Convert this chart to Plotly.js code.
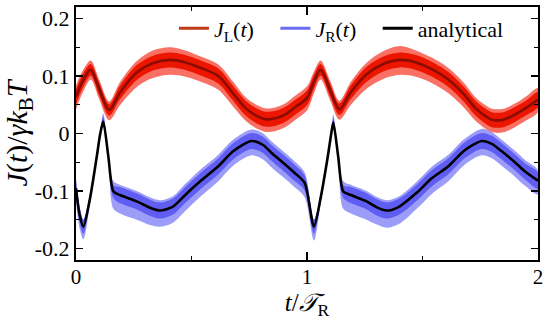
<!DOCTYPE html>
<html>
<head>
<meta charset="utf-8">
<script src="https://cdn.plot.ly/plotly-3.0.1.min.js"></script>
<style>html,body{margin:0;padding:0;background:#fff;}#chart{width:550px;height:322px;}</style>
</head>
<body>
<div id="chart"></div>
<script>
// ---- data ----
// left current J_L(t): analytical curve
const tL = [0, 0.03, 0.064, 0.1, 0.144, 0.19, 0.263, 0.33, 0.407, 0.47, 0.54, 0.616, 0.68, 0.732, 0.78, 0.818, 0.86, 0.905, 0.95, 1.0,
            1.03, 1.059, 1.1, 1.14, 1.19, 1.258, 1.33, 1.403, 1.468, 1.54, 1.612, 1.68, 1.727, 1.77, 1.8, 1.85, 1.9, 1.95, 2.0];
const jlAnalytic = [0.064, 0.092, 0.111, 0.078, 0.041, 0.071, 0.106, 0.122, 0.128, 0.124, 0.114, 0.1, 0.07, 0.045, 0.031, 0.025, 0.026, 0.033, 0.046, 0.062,
            0.09, 0.111, 0.076, 0.042, 0.072, 0.103, 0.121, 0.128, 0.124, 0.112, 0.094, 0.068, 0.045, 0.031, 0.024, 0.024, 0.033, 0.045, 0.059];
// spread of the noisy J_L data around the analytical curve (dense core / spiky fringe)
const jlCore   = [0.013, 0.012, 0.01, 0.011, 0.01, 0.012, 0.013, 0.013, 0.013, 0.013, 0.013, 0.013, 0.013, 0.013, 0.013, 0.013, 0.013, 0.013, 0.013, 0.013,
            0.012, 0.01, 0.011, 0.01, 0.012, 0.013, 0.013, 0.013, 0.013, 0.013, 0.013, 0.013, 0.013, 0.013, 0.013, 0.013, 0.013, 0.013, 0.013];
const jlAbove  = [0.02, 0.018, 0.016, 0.016, 0.015, 0.018, 0.02, 0.022, 0.022, 0.021, 0.02, 0.02, 0.02, 0.019, 0.019, 0.019, 0.019, 0.019, 0.02, 0.02,
            0.018, 0.016, 0.016, 0.015, 0.018, 0.02, 0.022, 0.024, 0.021, 0.02, 0.02, 0.02, 0.019, 0.019, 0.019, 0.019, 0.019, 0.02, 0.02];
const jlBelow  = [0.022, 0.02, 0.017, 0.018, 0.018, 0.022, 0.025, 0.026, 0.026, 0.025, 0.024, 0.024, 0.023, 0.022, 0.022, 0.022, 0.022, 0.022, 0.022, 0.022,
            0.02, 0.017, 0.018, 0.018, 0.022, 0.025, 0.026, 0.026, 0.025, 0.024, 0.024, 0.023, 0.022, 0.022, 0.022, 0.022, 0.022, 0.022, 0.022];

// right current J_R(t): analytical curve
const tR = [0, 0.015, 0.032, 0.061, 0.09, 0.105, 0.118, 0.14, 0.162, 0.19, 0.263, 0.32, 0.364, 0.42, 0.475, 0.544, 0.616, 0.68, 0.76, 0.81, 0.847, 0.9, 0.948, 0.99,
            1.03, 1.06, 1.09, 1.105, 1.114, 1.135, 1.157, 1.19, 1.258, 1.3, 1.345, 1.4, 1.475, 1.54, 1.612, 1.68, 1.756, 1.8, 1.843, 1.9, 1.944, 2.0];
const jrAnalytic = [-0.095, -0.14, -0.162, -0.112, -0.04, 0.0, 0.021, -0.04, -0.101, -0.107, -0.118, -0.129, -0.134, -0.127, -0.106, -0.081, -0.057, -0.031, -0.013, -0.02, -0.034, -0.052, -0.069, -0.086,
            -0.162, -0.11, -0.04, 0.0, 0.019, -0.04, -0.101, -0.107, -0.118, -0.128, -0.134, -0.127, -0.103, -0.078, -0.057, -0.03, -0.013, -0.018, -0.031, -0.05, -0.066, -0.082];
// spread of the noisy J_R data around the analytical curve
const jrCore   = [0.013, 0.013, 0.012, 0.006, 0.004, 0.004, 0.008, 0.004, 0.011, 0.014, 0.014, 0.014, 0.014, 0.014, 0.014, 0.014, 0.014, 0.014, 0.014, 0.014, 0.014, 0.014, 0.014, 0.013,
            0.012, 0.006, 0.004, 0.004, 0.008, 0.004, 0.011, 0.014, 0.014, 0.014, 0.014, 0.014, 0.014, 0.014, 0.014, 0.014, 0.014, 0.014, 0.014, 0.014, 0.014, 0.014];
const jrAbove  = [0.016, 0.014, 0.012, 0.008, 0.006, 0.006, 0.014, 0.006, 0.018, 0.018, 0.018, 0.018, 0.018, 0.018, 0.019, 0.02, 0.02, 0.02, 0.02, 0.02, 0.02, 0.02, 0.02, 0.018,
            0.012, 0.008, 0.006, 0.006, 0.014, 0.006, 0.018, 0.018, 0.018, 0.018, 0.018, 0.018, 0.019, 0.02, 0.02, 0.02, 0.021, 0.02, 0.02, 0.02, 0.02, 0.018];
const jrBelow  = [0.022, 0.024, 0.022, 0.01, 0.006, 0.006, 0.006, 0.006, 0.03, 0.032, 0.032, 0.03, 0.028, 0.028, 0.028, 0.027, 0.026, 0.025, 0.025, 0.025, 0.025, 0.025, 0.025, 0.025,
            0.024, 0.01, 0.006, 0.006, 0.006, 0.006, 0.03, 0.032, 0.032, 0.03, 0.03, 0.03, 0.028, 0.027, 0.026, 0.025, 0.025, 0.025, 0.025, 0.025, 0.025, 0.024];

const xTicks = [0, 1, 2];
const xTickText = ['0', '1', '2'];
const yTicks = [-0.2, -0.1, 0, 0.1, 0.2];
const yTickText = ['-0.2', '-0.1', '0', '0.1', '0.2'];
const legendNames = ['<i>J</i><sub>L</sub>(<i>t</i>)', '<i>J</i><sub>R</sub>(<i>t</i>)', 'analytical'];

// ---- build traces ----
function band(t, center, up, down, color) {
  const hi = center.map((v, i) => v + up[i]);
  const lo = center.map((v, i) => v - down[i]);
  return {
    x: t.concat(t.slice().reverse()),
    y: hi.concat(lo.slice().reverse()),
    type: 'scatter', mode: 'lines', fill: 'toself',
    fillcolor: color, line: {width: 0, color: color, shape: 'spline', smoothing: 0.9},
    hoverinfo: 'skip', showlegend: false
  };
}

const traces = [
  band(tL, jlAnalytic, jlAbove, jlBelow, 'rgba(245,25,5,0.62)'),
  band(tL, jlAnalytic, jlCore, jlCore, 'rgb(236,22,0)'),
  band(tR, jrAnalytic, jrAbove, jrBelow, 'rgba(95,95,245,0.62)'),
  band(tR, jrAnalytic, jrCore, jrCore, 'rgb(96,94,242)'),
  {x: tL, y: jlAnalytic, type: 'scatter', mode: 'lines', line: {color: '#8a0c00', width: 2.6, shape: 'spline', smoothing: 0.9}, showlegend: false},
  {x: tR, y: jrAnalytic, type: 'scatter', mode: 'lines', line: {color: '#000000', width: 2.6, shape: 'spline', smoothing: 0.7}, showlegend: false},
  // legend entries
  {x: [null], y: [null], type: 'scatter', mode: 'lines', name: legendNames[0] + '&nbsp;&nbsp;&nbsp;', line: {color: '#c0391a', width: 3}},
  {x: [null], y: [null], type: 'scatter', mode: 'lines', name: legendNames[1] + '&nbsp;&nbsp;&nbsp;', line: {color: '#6b6bf5', width: 3}},
  {x: [null], y: [null], type: 'scatter', mode: 'lines', name: legendNames[2], line: {color: '#000000', width: 3}}
];

const serif = '"Liberation Serif", "DejaVu Serif", serif';
const layout = {
  width: 550, height: 322,
  margin: {l: 76, r: 12, t: 7, b: 62},
  paper_bgcolor: '#fff', plot_bgcolor: '#fff',
  font: {family: serif, color: '#000', size: 19},
  showlegend: true,
  legend: {
    orientation: 'h', x: 0.212, xanchor: 'left', y: 0.915, yanchor: 'middle',
    font: {family: serif, size: 22, color: '#000'},
    bgcolor: 'rgba(0,0,0,0)', traceorder: 'normal', itemwidth: 30
  },
  xaxis: {
    range: [0, 2], tickvals: xTicks, ticktext: xTickText,
    ticks: 'inside', ticklen: 8, tickwidth: 1.6, tickcolor: '#000',
    showline: true, linewidth: 2, linecolor: '#000', mirror: 'allticks',
    showgrid: false, zeroline: false, ticklabelstandoff: -3,
    tickfont: {family: serif, size: 21},
    minor: {dtick: 0.5, tick0: 0, ticks: 'inside', ticklen: 4, tickwidth: 1.4, tickcolor: '#000', showgrid: false},
    title: {text: '<i>t</i>/<i>𝒯</i><sub>R</sub>', font: {family: serif, size: 25}, standoff: 5}
  },
  yaxis: {
    range: [-0.22, 0.22], tickvals: yTicks, ticktext: yTickText,
    ticks: 'inside', ticklen: 7, tickwidth: 1.6, tickcolor: '#000',
    showline: true, linewidth: 2, linecolor: '#000', mirror: 'allticks',
    showgrid: false, zeroline: false,
    tickfont: {family: serif, size: 22},
    minor: {dtick: 0.05, tick0: 0, ticks: 'inside', ticklen: 4, tickwidth: 1.4, tickcolor: '#000', showgrid: false},
    title: {text: '<i>J</i>(<i>t</i>)/<i>γk</i><sub>B</sub><i>T</i>', font: {family: serif, size: 30}, standoff: 2}
  }
};

Plotly.newPlot('chart', traces, layout, {displayModeBar: false, staticPlot: true});
</script>
</body>
</html>
